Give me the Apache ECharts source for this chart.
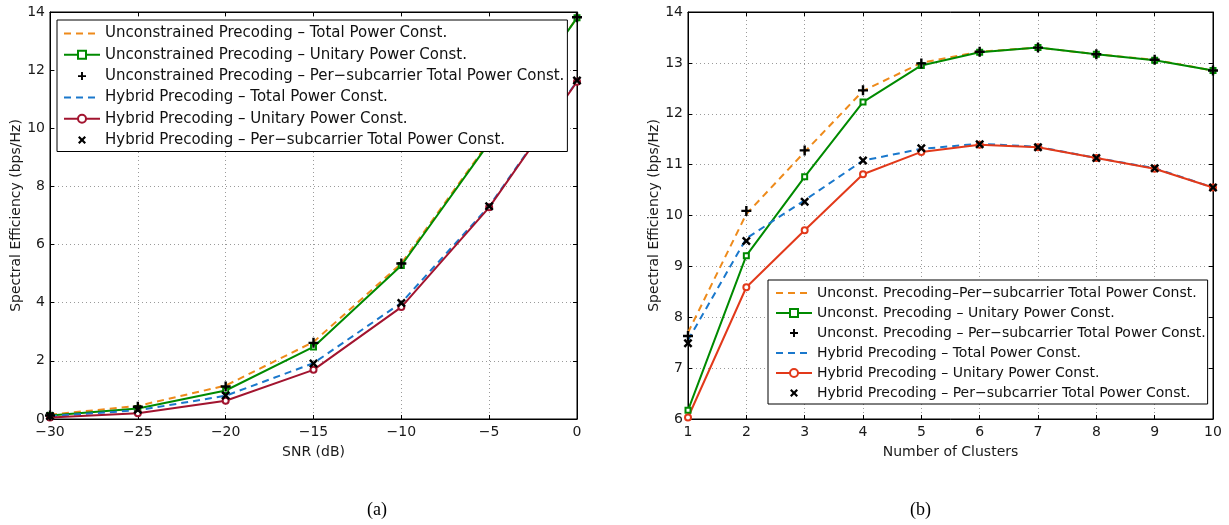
<!DOCTYPE html>
<html>
<head>
<meta charset="utf-8">
<script src="https://cdn.jsdelivr.net/npm/echarts@6/dist/echarts.min.js"></script>
<style>
html,body{margin:0;padding:0;background:#fff;}
#c{width:1229px;height:525px;}
</style>
</head>
<body>
<div id="c"></div>
<script>
// ---------- data ----------
const snr = [-30, -25, -20, -15, -10, -5, 0];
const snrTickLabels = ['\u221230', '\u221225', '\u221220', '\u221215', '\u221210', '\u22125', '0'];
const a_uncTotal   = [0.15, 0.45, 1.15, 2.65, 5.35, 9.55, 13.8];
const a_uncUnitary = [0.12, 0.36, 0.98, 2.48, 5.28, 9.5, 13.8];
const a_uncPerSub  = [0.12, 0.42, 1.12, 2.62, 5.35, 9.55, 13.82];
const a_hybTotal   = [0.1, 0.3, 0.8, 1.92, 4.0, 7.32, 11.62];
const a_hybUnitary = [0.05, 0.2, 0.63, 1.69, 3.85, 7.28, 11.6];
const a_hybPerSub  = [0.1, 0.32, 0.81, 1.91, 3.99, 7.32, 11.64];

const clusters = [1, 2, 3, 4, 5, 6, 7, 8, 9, 10];
const b_uncTotal   = [7.7, 10.03, 11.25, 12.45, 13.0, 13.22, 13.3, 13.17, 13.06, 12.85];
const b_uncUnitary = [6.17, 9.21, 10.76, 12.23, 12.95, 13.21, 13.3, 13.17, 13.05, 12.85];
const b_uncPerSub  = [7.63, 10.09, 11.28, 12.46, 12.99, 13.22, 13.3, 13.17, 13.06, 12.85];
const b_hybTotal   = [7.55, 9.55, 10.3, 11.08, 11.31, 11.41, 11.35, 11.13, 10.93, 10.55];
const b_hybUnitary = [6.03, 8.59, 9.71, 10.81, 11.25, 11.39, 11.34, 11.13, 10.92, 10.55];
const b_hybPerSub  = [7.49, 9.5, 10.27, 11.08, 11.32, 11.4, 11.34, 11.13, 10.93, 10.55];

const namesA = [
  'Unconstrained Precoding \u2013 Total Power Const.',
  'Unconstrained Precoding \u2013 Unitary Power Const.',
  'Unconstrained Precoding \u2013 Per\u2212subcarrier Total Power Const.',
  'Hybrid Precoding \u2013 Total Power Const.',
  'Hybrid Precoding \u2013 Unitary Power Const.',
  'Hybrid Precoding \u2013 Per\u2212subcarrier Total Power Const.'
];
const namesB = [
  'Unconst. Precoding\u2013Per\u2212subcarrier Total Power Const.',
  'Unconst. Precoding \u2013 Unitary Power Const.',
  'Unconst. Precoding \u2013 Per\u2212subcarrier Total Power Const.',
  'Hybrid Precoding \u2013 Total Power Const.',
  'Hybrid Precoding \u2013 Unitary Power Const.',
  'Hybrid Precoding \u2013 Per\u2212subcarrier Total Power Const.'
];
const captions = ['(a)', '(b)'];

// ---------- styling ----------
const FONT = 'DejaVu Sans';
const ORANGE = '#EE8A1A', GREEN = '#008A00', BLUE = '#1A78CC', CRIMSON = '#A2142F', REDORANGE = '#E2391A';
const DASH = [7, 5];
const PLUS = 'path://M-1.2,-5H1.2V-1.2H5V1.2H1.2V5H-1.2V1.2H-5V-1.2H-1.2Z';
const CROSS = 'path://M2.687,-4.384L4.384,-2.687L1.697,0L4.384,2.687L2.687,4.384L0,1.697L-2.687,4.384L-4.384,2.687L-1.697,0L-4.384,-2.687L-2.687,-4.384L0,-1.697Z';
const SUFFIX = ' #b';

function pts(xs, ys) { return xs.map((x, i) => [x, ys[i]]); }

function lineSeries(name, xs, ys, axis, color, opts) {
  const s = {
    name: name, type: 'line', xAxisIndex: axis, yAxisIndex: axis,
    data: pts(xs, ys), silent: true, animation: false,
    lineStyle: { color: color, width: 2, type: opts.dash ? DASH : 'solid' },
    itemStyle: { color: color },
    symbol: opts.symbol || 'none', symbolSize: opts.size || 6,
    showSymbol: !!opts.symbol, z: opts.z || 2,
    emphasis: { disabled: true }
  };
  if (opts.markerOnly) {
    s.lineStyle = { opacity: 0, width: 0 };
    s.itemStyle = { color: color, borderWidth: 0 };
    s.symbolKeepAspect = true;
    s.z = 3;
  }
  return s;
}

function axisTickLabel(labels, min, step) {
  return function (v) {
    const i = Math.round((v - min) / step);
    return labels[i] !== undefined ? labels[i] : '';
  };
}

const labelStyle = { fontFamily: FONT, fontSize: 14, color: '#1a1a1a' };

function mainX(gridIndex, min, max, interval, name, formatter) {
  return {
    type: 'value', gridIndex: gridIndex, min: min, max: max, interval: interval,
    position: 'bottom', name: name, nameLocation: 'middle', nameGap: 26,
    nameTextStyle: { fontFamily: FONT, fontSize: 14, color: '#1a1a1a' },
    axisLine: { show: true, onZero: false, lineStyle: { color: '#000', width: 1 } },
    axisTick: { show: true, inside: true, length: 4, lineStyle: { color: '#000' } },
    axisLabel: Object.assign({ margin: 6, formatter: formatter }, labelStyle),
    splitLine: { show: true, lineStyle: { color: '#9a9a9a', type: [1, 3], width: 1 } }
  };
}
function mainY(gridIndex, min, max, interval, name) {
  return {
    type: 'value', gridIndex: gridIndex, min: min, max: max, interval: interval,
    position: 'left', name: name, nameLocation: 'middle', nameGap: 26,
    nameTextStyle: { fontFamily: FONT, fontSize: 14, color: '#1a1a1a' },
    axisLine: { show: true, onZero: false, lineStyle: { color: '#000', width: 1 } },
    axisTick: { show: true, inside: true, length: 4, lineStyle: { color: '#000' } },
    axisLabel: Object.assign({ margin: 5 }, labelStyle),
    splitLine: { show: true, lineStyle: { color: '#9a9a9a', type: [1, 3], width: 1 } }
  };
}
function boxAxis(gridIndex, min, max, interval, position) {
  return {
    type: 'value', gridIndex: gridIndex, min: min, max: max, interval: interval,
    position: position,
    axisLine: { show: true, onZero: false, lineStyle: { color: '#000', width: 1 } },
    axisTick: { show: true, inside: true, length: 4, lineStyle: { color: '#000' } },
    axisLabel: { show: false }, splitLine: { show: false }
  };
}

function legendData(names, colors, kinds) {
  return names.map((n, i) => {
    const k = kinds[i];
    const item = { name: n };
    if (k === 'plus' || k === 'cross') {
      item.lineStyle = { opacity: 0, width: 0 };
    } else {
      item.lineStyle = { color: colors[i], width: 2, type: k === 'dash' ? DASH : 'solid' };
    }
    if (k === 'dash') item.itemStyle = { opacity: 0 };
    return item;
  });
}

const kinds = ['dash', 'square', 'plus', 'dash', 'circle', 'cross'];

const seriesA = [
  lineSeries(namesA[0], snr, a_uncTotal, 0, ORANGE, { dash: true }),
  lineSeries(namesA[1], snr, a_uncUnitary, 0, GREEN, { symbol: 'emptyRect', size: 5 }),
  lineSeries(namesA[2], snr, a_uncPerSub, 0, '#000', { symbol: PLUS, size: 10, markerOnly: true }),
  lineSeries(namesA[3], snr, a_hybTotal, 0, BLUE, { dash: true }),
  lineSeries(namesA[4], snr, a_hybUnitary, 0, CRIMSON, { symbol: 'emptyCircle', size: 6 }),
  lineSeries(namesA[5], snr, a_hybPerSub, 0, '#000', { symbol: CROSS, size: 9, markerOnly: true })
];
const seriesB = [
  lineSeries(namesB[0] + SUFFIX, clusters, b_uncTotal, 2, ORANGE, { dash: true }),
  lineSeries(namesB[1] + SUFFIX, clusters, b_uncUnitary, 2, GREEN, { symbol: 'emptyRect', size: 5 }),
  lineSeries(namesB[2] + SUFFIX, clusters, b_uncPerSub, 2, '#000', { symbol: PLUS, size: 10, markerOnly: true }),
  lineSeries(namesB[3] + SUFFIX, clusters, b_hybTotal, 2, BLUE, { dash: true }),
  lineSeries(namesB[4] + SUFFIX, clusters, b_hybUnitary, 2, REDORANGE, { symbol: 'emptyCircle', size: 6 }),
  lineSeries(namesB[5] + SUFFIX, clusters, b_hybPerSub, 2, '#000', { symbol: CROSS, size: 9, markerOnly: true })
];

const option = {
  backgroundColor: '#fff',
  animation: false,
  grid: [
    { left: 50, top: 12, width: 527, height: 407, show: true, borderColor: '#000', borderWidth: 1, backgroundColor: 'transparent' },
    { left: 688, top: 12, width: 525, height: 407, show: true, borderColor: '#000', borderWidth: 1, backgroundColor: 'transparent' }
  ],
  xAxis: [
    mainX(0, -30, 0, 5, 'SNR (dB)', axisTickLabel(snrTickLabels, -30, 5)),
    boxAxis(0, -30, 0, 5, 'top'),
    mainX(1, 1, 10, 1, 'Number of Clusters', null),
    boxAxis(1, 1, 10, 1, 'top')
  ],
  yAxis: [
    mainY(0, 0, 14, 2, 'Spectral Efficiency (bps/Hz)'),
    boxAxis(0, 0, 14, 2, 'right'),
    mainY(1, 6, 14, 1, 'Spectral Efficiency (bps/Hz)'),
    boxAxis(1, 6, 14, 1, 'right')
  ],
  legend: [
    {
      orient: 'vertical', left: 57, top: 20, itemWidth: 36, itemHeight: 10, itemGap: 6.3,
      padding: [6, 3, 4, 6], borderColor: '#000', borderWidth: 1, backgroundColor: '#fff',
      textStyle: { fontFamily: FONT, fontSize: 15, color: '#111' },
      selectedMode: false, z: 10,
      data: legendData(namesA, [ORANGE, GREEN, '#000', BLUE, CRIMSON, '#000'], kinds)
    },
    {
      orient: 'vertical', left: 768, top: 280, itemWidth: 36, itemHeight: 10, itemGap: 6,
      padding: [6, 2, 4, 7], borderColor: '#000', borderWidth: 1, backgroundColor: '#fff',
      textStyle: { fontFamily: FONT, fontSize: 14, color: '#111' },
      selectedMode: false, z: 10,
      formatter: function (n) { return n.replace(SUFFIX, ''); },
      data: legendData(namesB.map(n => n + SUFFIX), [ORANGE, GREEN, '#000', BLUE, REDORANGE, '#000'], kinds)
    }
  ],
  graphic: [
    { type: 'text', left: 367, top: 501, style: { text: captions[0], font: '18px "Liberation Serif"', fill: '#000' } },
    { type: 'text', left: 910, top: 501, style: { text: captions[1], font: '18px "Liberation Serif"', fill: '#000' } }
  ],
  series: seriesA.concat(seriesB)
};

const chart = echarts.init(document.getElementById('c'), null, { renderer: 'canvas' });
chart.setOption(option);
</script>
</body>
</html>
